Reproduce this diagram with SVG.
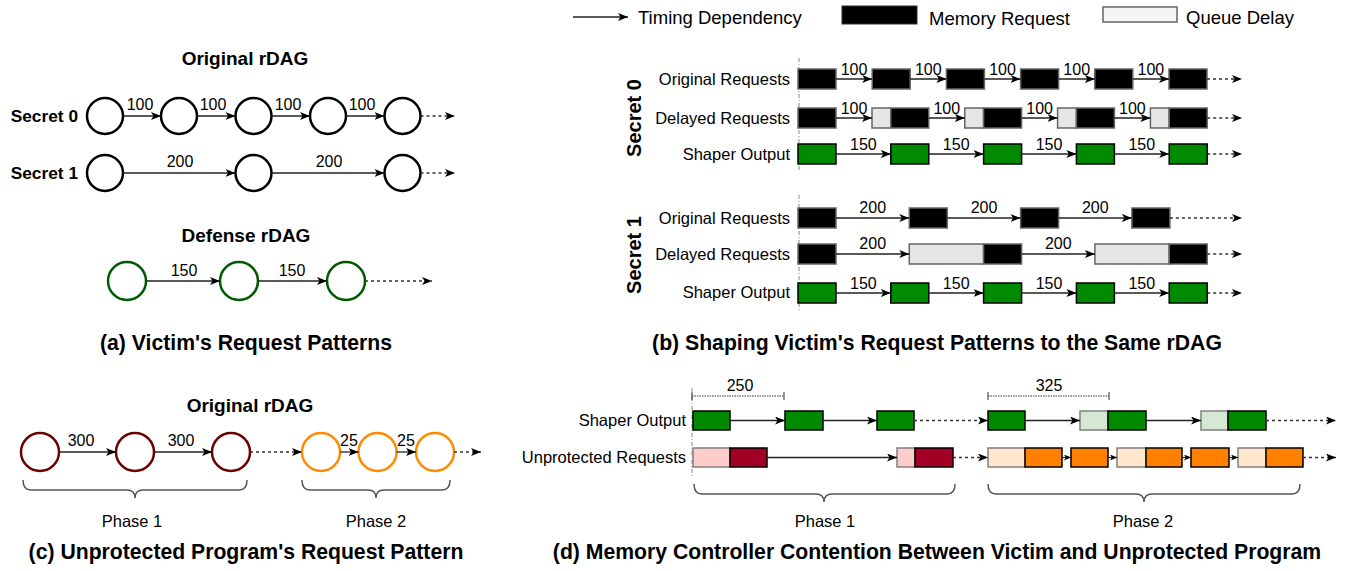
<svg xmlns="http://www.w3.org/2000/svg" width="1348" height="571" viewBox="0 0 1348 571">
<defs>
<marker id="ah" markerUnits="userSpaceOnUse" markerWidth="10" markerHeight="8" refX="10" refY="4" orient="auto"><path d="M0,0 L10,4 L0,8 L2.5,4 z" fill="#000"/></marker>
<marker id="ahs" markerUnits="userSpaceOnUse" markerWidth="7" markerHeight="6" refX="7" refY="3" orient="auto"><path d="M0,0 L7,3 L0,6 L1.8,3 z" fill="#000"/></marker>
<style>
text{font-family:"Liberation Sans",Arial,sans-serif;fill:#000}
.t{font-size:19px;font-weight:bold;text-anchor:middle}
.cap{font-size:21.2px;font-weight:bold;text-anchor:middle}
.sec{font-size:17.3px;font-weight:bold;text-anchor:end}
.secr{font-size:20px;font-weight:bold;text-anchor:middle}
.n{font-size:16px;text-anchor:middle}
.lbl{font-size:16.5px;text-anchor:end}
.lg{font-size:18.5px}
.ph{font-size:16.5px;text-anchor:middle}
.ln{stroke:#222;stroke-width:1.3;fill:none;marker-end:url(#ah)}
.lns{stroke:#222;stroke-width:1.2;fill:none;marker-end:url(#ahs)}
.dl{stroke:#333;stroke-width:1.3;fill:none;stroke-dasharray:3 3;marker-end:url(#ah)}
.cb{fill:#fff;stroke:#000;stroke-width:2.5}
.cg{fill:#fff;stroke:#005a00;stroke-width:2.5}
.cr{fill:#fff;stroke:#6b0000;stroke-width:2.5}
.co{fill:#fff;stroke:#ff8c00;stroke-width:2.5}
.blk{fill:#000;stroke:#666;stroke-width:1.5}
.grn{fill:#008a00;stroke:#000;stroke-width:1.5}
.q{fill:#e6e6e6;stroke:#666;stroke-width:1.5}
.lgq{fill:#d5e8d4;stroke:#808080;stroke-width:1.5}
.pk{fill:#ffcccc;stroke:#808080;stroke-width:1.5}
.dr{fill:#a20025;stroke:#000;stroke-width:1.5}
.pc{fill:#ffe6cc;stroke:#808080;stroke-width:1.5}
.or{fill:#ff8000;stroke:#000;stroke-width:1.5}
.vd{stroke:#888;stroke-width:1;stroke-dasharray:4 2 1 2;fill:none}
.br{stroke:#555;stroke-width:1.5;fill:none}
.dim{stroke:#333;stroke-width:1;stroke-dasharray:1.5 1;fill:none}
.tk{stroke:#333;stroke-width:1;fill:none}
</style>
</defs>

<!-- Legend -->
<g id="legend">
<line class="ln" x1="573" y1="17" x2="628" y2="17"/>
<text class="lg" x="638" y="24">Timing Dependency</text>
<rect x="842" y="6" width="75" height="18" fill="#000" stroke="#333" stroke-width="1"/>
<text class="lg" x="929" y="25">Memory Request</text>
<rect x="1103" y="7" width="74" height="15" fill="#f5f5f5" stroke="#666" stroke-width="1.5"/>
<text class="lg" x="1186" y="24">Queue Delay</text>
</g>

<!-- (a) -->
<g id="a-titles">
<text class="t" x="245" y="65">Original rDAG</text>
<text class="sec" x="78" y="122">Secret 0</text>
<text class="sec" x="78" y="179">Secret 1</text>
<text class="t" x="246" y="242">Defense rDAG</text>
<text class="cap" x="246" y="350">(a) Victim's Request Patterns</text>
</g>
<g id="a-s0-nodes">
<circle class="cb" cx="105" cy="116" r="18"/>
<circle class="cb" cx="179" cy="116" r="18"/>
<circle class="cb" cx="253.5" cy="116" r="18"/>
<circle class="cb" cx="328" cy="116" r="18"/>
<circle class="cb" cx="402.5" cy="116" r="18"/>
</g>
<g id="a-s1-nodes">
<circle class="cb" cx="105" cy="173" r="18"/>
<circle class="cb" cx="253.5" cy="173" r="18"/>
<circle class="cb" cx="402.5" cy="173" r="18"/>
</g>
<g id="a-def-nodes">
<circle class="cg" cx="127" cy="281" r="19"/>
<circle class="cg" cx="239" cy="281" r="19"/>
<circle class="cg" cx="346" cy="281" r="19"/>
</g>
<g id="a-connectors">
<line class="ln" x1="123" y1="116" x2="161" y2="116"/>
<line class="ln" x1="197" y1="116" x2="235.5" y2="116"/>
<line class="ln" x1="271.5" y1="116" x2="310" y2="116"/>
<line class="ln" x1="346" y1="116" x2="384.5" y2="116"/>
<line class="dl" x1="420.5" y1="116" x2="455" y2="116"/>
<text class="n" x="140" y="110">100</text>
<text class="n" x="213" y="110">100</text>
<text class="n" x="288" y="110">100</text>
<text class="n" x="362" y="110">100</text>
<line class="ln" x1="123" y1="173" x2="235.5" y2="173"/>
<line class="ln" x1="271.5" y1="173" x2="384.5" y2="173"/>
<line class="dl" x1="420.5" y1="173" x2="455" y2="173"/>
<text class="n" x="180" y="167">200</text>
<text class="n" x="329" y="167">200</text>
<line class="ln" x1="146" y1="281" x2="220" y2="281"/>
<line class="ln" x1="258" y1="281" x2="327" y2="281"/>
<line class="dl" x1="365" y1="281" x2="432" y2="281"/>
<text class="n" x="184" y="276">150</text>
<text class="n" x="292" y="276">150</text>
</g>

<!-- (b) -->
<g id="b-labels">
<line class="vd" x1="799" y1="58" x2="799" y2="172"/>
<line class="vd" x1="799" y1="195" x2="799" y2="312"/>
<text class="secr" transform="translate(641,118) rotate(-90)">Secret 0</text>
<text class="secr" transform="translate(641,255) rotate(-90)">Secret 1</text>
<text class="lbl" x="790" y="85">Original Requests</text>
<text class="lbl" x="790" y="124">Delayed Requests</text>
<text class="lbl" x="790" y="160">Shaper Output</text>
<text class="lbl" x="790" y="224">Original Requests</text>
<text class="lbl" x="790" y="260">Delayed Requests</text>
<text class="lbl" x="790" y="298">Shaper Output</text>
<text class="cap" x="937" y="350">(b) Shaping Victim's Request Patterns to the Same rDAG</text>
</g>
<g id="b-s0-original">
<rect class="blk" x="798" y="69" width="38" height="20"/>
<rect class="blk" x="872.2" y="69" width="38" height="20"/>
<rect class="blk" x="946.4" y="69" width="38" height="20"/>
<rect class="blk" x="1020.6" y="69" width="38" height="20"/>
<rect class="blk" x="1094.8" y="69" width="38" height="20"/>
<rect class="blk" x="1169" y="69" width="38" height="20"/>
</g>
<g id="b-s0-delayed">
<rect class="blk" x="798" y="108" width="38" height="20"/>
<rect class="q" x="872" y="108" width="18.8" height="20"/>
<rect class="blk" x="890.8" y="108" width="38" height="20"/>
<rect class="q" x="964.8" y="108" width="18.8" height="20"/>
<rect class="blk" x="983.6" y="108" width="38" height="20"/>
<rect class="q" x="1057.6" y="108" width="18.8" height="20"/>
<rect class="blk" x="1076.4" y="108" width="38" height="20"/>
<rect class="q" x="1150.4" y="108" width="18.8" height="20"/>
<rect class="blk" x="1169.2" y="108" width="38" height="20"/>
</g>
<g id="b-s0-shaper">
<rect class="grn" x="798" y="144" width="38" height="20"/>
<rect class="grn" x="890.8" y="144" width="38" height="20"/>
<rect class="grn" x="983.6" y="144" width="38" height="20"/>
<rect class="grn" x="1076.4" y="144" width="38" height="20"/>
<rect class="grn" x="1169.2" y="144" width="38" height="20"/>
</g>
<g id="b-s1-original">
<rect class="blk" x="798" y="208" width="38" height="20"/>
<rect class="blk" x="909.3" y="208" width="38" height="20"/>
<rect class="blk" x="1020.6" y="208" width="38" height="20"/>
<rect class="blk" x="1131.9" y="208" width="38" height="20"/>
</g>
<g id="b-s1-delayed">
<rect class="blk" x="798" y="244" width="38" height="20"/>
<rect class="q" x="909.3" y="244" width="74.3" height="20"/>
<rect class="blk" x="983.6" y="244" width="38" height="20"/>
<rect class="q" x="1094.9" y="244" width="74.3" height="20"/>
<rect class="blk" x="1169.2" y="244" width="38" height="20"/>
</g>
<g id="b-s1-shaper">
<rect class="grn" x="798" y="283" width="38" height="20"/>
<rect class="grn" x="890.8" y="283" width="38" height="20"/>
<rect class="grn" x="983.6" y="283" width="38" height="20"/>
<rect class="grn" x="1076.4" y="283" width="38" height="20"/>
<rect class="grn" x="1169.2" y="283" width="38" height="20"/>
</g>
<g id="b-connectors">
<line class="ln" x1="836" y1="79" x2="872.2" y2="79"/>
<line class="ln" x1="910.2" y1="79" x2="946.4" y2="79"/>
<line class="ln" x1="984.4" y1="79" x2="1020.6" y2="79"/>
<line class="ln" x1="1058.6" y1="79" x2="1094.8" y2="79"/>
<line class="ln" x1="1132.8" y1="79" x2="1169" y2="79"/>
<line class="dl" x1="1207" y1="79" x2="1242" y2="79"/>
<text class="n" x="854" y="75">100</text>
<text class="n" x="928.3" y="75">100</text>
<text class="n" x="1002.5" y="75">100</text>
<text class="n" x="1076.7" y="75">100</text>
<text class="n" x="1150.9" y="75">100</text>
<line class="ln" x1="836" y1="118" x2="872" y2="118"/>
<line class="ln" x1="928.8" y1="118" x2="964.8" y2="118"/>
<line class="ln" x1="1021.6" y1="118" x2="1057.6" y2="118"/>
<line class="ln" x1="1114.4" y1="118" x2="1150.4" y2="118"/>
<line class="dl" x1="1207.2" y1="118" x2="1242" y2="118"/>
<text class="n" x="854" y="114">100</text>
<text class="n" x="946.8" y="114">100</text>
<text class="n" x="1039.6" y="114">100</text>
<text class="n" x="1132.4" y="114">100</text>
<line class="ln" x1="836" y1="154" x2="890.8" y2="154"/>
<line class="ln" x1="928.8" y1="154" x2="983.6" y2="154"/>
<line class="ln" x1="1021.6" y1="154" x2="1076.4" y2="154"/>
<line class="ln" x1="1114.4" y1="154" x2="1169.2" y2="154"/>
<line class="dl" x1="1207.2" y1="154" x2="1242" y2="154"/>
<text class="n" x="863.4" y="150">150</text>
<text class="n" x="956.2" y="150">150</text>
<text class="n" x="1049" y="150">150</text>
<text class="n" x="1141.8" y="150">150</text>
<line class="ln" x1="836" y1="218" x2="909.3" y2="218"/>
<line class="ln" x1="947.3" y1="218" x2="1020.6" y2="218"/>
<line class="ln" x1="1058.6" y1="218" x2="1131.9" y2="218"/>
<line class="dl" x1="1169.9" y1="218" x2="1242" y2="218"/>
<text class="n" x="872.7" y="213">200</text>
<text class="n" x="984" y="213">200</text>
<text class="n" x="1095.3" y="213">200</text>
<line class="ln" x1="836" y1="254" x2="909.3" y2="254"/>
<line class="ln" x1="1021.6" y1="254" x2="1094.9" y2="254"/>
<line class="dl" x1="1207.2" y1="254" x2="1242" y2="254"/>
<text class="n" x="872.7" y="249">200</text>
<text class="n" x="1058.3" y="249">200</text>
<line class="ln" x1="836" y1="293" x2="890.8" y2="293"/>
<line class="ln" x1="928.8" y1="293" x2="983.6" y2="293"/>
<line class="ln" x1="1021.6" y1="293" x2="1076.4" y2="293"/>
<line class="ln" x1="1114.4" y1="293" x2="1169.2" y2="293"/>
<line class="dl" x1="1207.2" y1="293" x2="1242" y2="293"/>
<text class="n" x="863.4" y="289">150</text>
<text class="n" x="956.2" y="289">150</text>
<text class="n" x="1049" y="289">150</text>
<text class="n" x="1141.8" y="289">150</text>
</g>

<!-- (c) -->
<g id="c-labels">
<text class="t" x="250" y="412">Original rDAG</text>
<path class="br" d="M23,480 Q23,490 31,490 L127,490 Q135,490 135,498 Q135,490 143,490 L239,490 Q247,490 247,480"/>
<path class="br" d="M302,480 Q302,490 310,490 L368,490 Q376,490 376,498 Q376,490 384,490 L442,490 Q450,490 450,480"/>
<text class="ph" x="132" y="527">Phase 1</text>
<text class="ph" x="376" y="527">Phase 2</text>
<text class="cap" x="246" y="559">(c) Unprotected Program's Request Pattern</text>
</g>
<g id="c-phase1-nodes">
<circle class="cr" cx="40" cy="452" r="19"/>
<circle class="cr" cx="135" cy="452" r="19"/>
<circle class="cr" cx="231" cy="452" r="19"/>
</g>
<g id="c-phase2-nodes">
<circle class="co" cx="321" cy="452" r="19"/>
<circle class="co" cx="377.5" cy="452" r="19"/>
<circle class="co" cx="435" cy="452" r="19"/>
</g>
<g id="c-connectors">
<line class="ln" x1="59" y1="452" x2="116" y2="452"/>
<line class="ln" x1="154" y1="452" x2="212" y2="452"/>
<line class="dl" x1="250" y1="452" x2="302" y2="452"/>
<line class="ln" x1="340" y1="452" x2="358.5" y2="452"/>
<line class="ln" x1="396.5" y1="452" x2="416" y2="452"/>
<line class="dl" x1="454" y1="452" x2="481" y2="452"/>
<text class="n" x="81" y="446">300</text>
<text class="n" x="181" y="446">300</text>
<text class="n" x="349" y="446">25</text>
<text class="n" x="406" y="446">25</text>
</g>

<!-- (d) -->
<g id="d-labels">
<line class="vd" x1="692" y1="388" x2="692" y2="476"/>
<text class="lbl" x="686" y="426">Shaper Output</text>
<text class="lbl" x="686" y="463">Unprotected Requests</text>
<line class="dim" x1="692" y1="396" x2="784" y2="396"/>
<line class="tk" x1="692" y1="392" x2="692" y2="400"/>
<line class="tk" x1="784" y1="392" x2="784" y2="400"/>
<text class="n" x="740" y="391">250</text>
<line class="dim" x1="988" y1="396" x2="1109" y2="396"/>
<line class="tk" x1="988" y1="392" x2="988" y2="400"/>
<line class="tk" x1="1109" y1="392" x2="1109" y2="400"/>
<text class="n" x="1049" y="391">325</text>
<path class="br" d="M694,484 Q694,494 702,494 L816,494 Q824,494 824,502 Q824,494 832,494 L947,494 Q955,494 955,484"/>
<path class="br" d="M988,484 Q988,494 996,494 L1136,494 Q1144,494 1144,502 Q1144,494 1152,494 L1292,494 Q1300,494 1300,484"/>
<text class="ph" x="825" y="527">Phase 1</text>
<text class="ph" x="1143" y="527">Phase 2</text>
<text class="cap" x="937" y="559">(d) Memory Controller Contention Between Victim and Unprotected Program</text>
</g>
<g id="d-shaper">
<rect class="grn" x="693" y="411" width="37" height="19"/>
<rect class="grn" x="785" y="411" width="38" height="19"/>
<rect class="grn" x="877" y="411" width="37" height="19"/>
<rect class="grn" x="988" y="411" width="37" height="19"/>
<rect class="lgq" x="1080" y="411" width="28" height="19"/>
<rect class="grn" x="1108" y="411" width="38" height="19"/>
<rect class="lgq" x="1201" y="411" width="27" height="19"/>
<rect class="grn" x="1228" y="411" width="38" height="19"/>
</g>
<g id="d-unprotected">
<rect class="pk" x="693" y="448" width="37" height="19"/>
<rect class="dr" x="730" y="448" width="37" height="19"/>
<rect class="pk" x="897" y="448" width="18" height="19"/>
<rect class="dr" x="915" y="448" width="38" height="19"/>
<rect class="pc" x="988" y="448" width="37" height="19"/>
<rect class="or" x="1025" y="448" width="37" height="19"/>
<rect class="or" x="1071" y="448" width="37" height="19"/>
<rect class="pc" x="1117" y="448" width="29" height="19"/>
<rect class="or" x="1146" y="448" width="36" height="19"/>
<rect class="or" x="1191" y="448" width="38" height="19"/>
<rect class="pc" x="1238" y="448" width="28" height="19"/>
<rect class="or" x="1266" y="448" width="37" height="19"/>
</g>
<g id="d-connectors">
<line class="ln" x1="730" y1="420.5" x2="785" y2="420.5"/>
<line class="ln" x1="823" y1="420.5" x2="877" y2="420.5"/>
<line class="dl" x1="914" y1="420.5" x2="988" y2="420.5"/>
<line class="ln" x1="1025" y1="420.5" x2="1080" y2="420.5"/>
<line class="ln" x1="1146" y1="420.5" x2="1201" y2="420.5"/>
<line class="dl" x1="1266" y1="420.5" x2="1336" y2="420.5"/>
<line class="ln" x1="767" y1="457.5" x2="897" y2="457.5"/>
<line class="dl" x1="953" y1="457.5" x2="988" y2="457.5"/>
<line class="lns" x1="1062" y1="457.5" x2="1071" y2="457.5"/>
<line class="lns" x1="1108" y1="457.5" x2="1117" y2="457.5"/>
<line class="lns" x1="1182" y1="457.5" x2="1191" y2="457.5"/>
<line class="lns" x1="1229" y1="457.5" x2="1238" y2="457.5"/>
<line class="dl" x1="1303" y1="457.5" x2="1336" y2="457.5"/>
</g>
</svg>
